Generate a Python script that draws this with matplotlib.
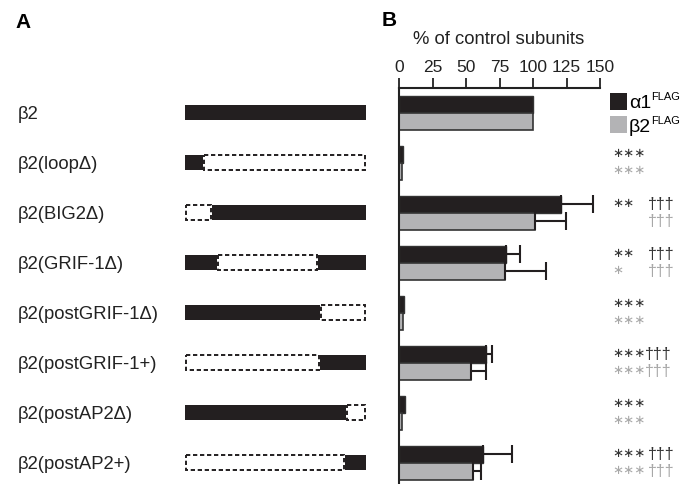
import matplotlib
matplotlib.use("Agg")
import matplotlib.pyplot as plt
import matplotlib.transforms as mtransforms
from matplotlib.patches import Rectangle
import numpy as np

plt.rcParams["font.family"] = ["Liberation Sans", "DejaVu Sans"]

constructs = ["β2", "β2(loopΔ)", "β2(BIG2Δ)", "β2(GRIF-1Δ)", "β2(postGRIF-1Δ)",
              "β2(postGRIF-1+)", "β2(postAP2Δ)", "β2(postAP2+)"]

# schematic segments along the construct (0-181 units), 'f' = present, 'd' = deleted
segments = [
    [(0, 181, "f")],
    [(0, 18, "f"), (18, 181, "d")],
    [(0, 27, "d"), (27, 181, "f")],
    [(0, 32, "f"), (32, 133, "d"), (133, 181, "f")],
    [(0, 135, "f"), (135, 181, "d")],
    [(0, 135, "d"), (135, 181, "f")],
    [(0, 161, "f"), (161, 181, "d")],
    [(0, 160, "d"), (160, 181, "f")],
]

alpha_vals = [100, 3, 121, 80, 4, 65, 4.5, 63]
alpha_err = [0, 0, 24, 10, 0, 4.5, 0, 21]
beta_vals = [100, 2.5, 101.5, 79, 3, 54, 2.5, 55]
beta_err = [0, 0, 23, 31, 0, 11, 0, 6]

stars_alpha = ["", "***", "**", "**", "***", "***", "***", "***"]
stars_beta = ["", "***", "", "*", "***", "***", "***", "***"]
dagger_alpha = ["", "", "†††", "†††", "", "†††", "", "†††"]
dagger_beta = ["", "", "†††", "†††", "", "†††", "", "†††"]

xticks = [0, 25, 50, 75, 100, 125, 150]

W, H = 686, 484
fig = plt.figure(figsize=(W / 100, H / 100), dpi=100)

dark = "#231f20"
grey = "#b3b3b5"
grey_txt = "#a8a8a8"

ymin, ymax = 7.42, -0.5

ax = fig.add_axes([399 / W, 0, 201 / W, (H - 88) / H])
y = np.arange(len(constructs))
off = 0.17
h = 0.34
ax.barh(y - off, alpha_vals, height=h, color=dark, edgecolor="#333333", linewidth=1)
ax.barh(y + off, beta_vals, height=h, color=grey, edgecolor="#333333", linewidth=1.2)

a_err = np.array(alpha_err)
b_err = np.array(beta_err)
ma = a_err > 0
mb = b_err > 0
ax.errorbar(np.array(alpha_vals)[ma], (y - off)[ma], xerr=[np.zeros(ma.sum()), a_err[ma]],
            fmt="none", ecolor=dark, elinewidth=1.5, capsize=6.5, capthick=1.5)
ax.errorbar(np.array(beta_vals)[mb], (y + off)[mb], xerr=[np.zeros(mb.sum()), b_err[mb]],
            fmt="none", ecolor=dark, elinewidth=1.5, capsize=6.5, capthick=1.5)

ax.set_xlim(0, 150)
ax.set_ylim(ymin, ymax)
ax.xaxis.tick_top()
ax.set_xticks(xticks)
ax.tick_params(axis="x", direction="out", length=7, width=1.3, labelsize=12.5, pad=2,
               colors="#222222")
ax.set_yticks([])
for s in ["right", "bottom"]:
    ax.spines[s].set_visible(False)
ax.spines["top"].set_linewidth(1.5)
ax.spines["left"].set_linewidth(1.5)
ax.spines["top"].set_color("#222222")
ax.spines["left"].set_color("#222222")
ax.set_facecolor("none")

fig.text(499 / W, 1 - 40 / H, "% of control subunits", ha="center", va="center", fontsize=13.3,
         color="#222222")

# schematic panel
ax_s = fig.add_axes([185 / W, 0, 181 / W, (H - 88) / H])
ax_s.set_xlim(0, 181)
ax_s.set_ylim(ymin, ymax)
ax_s.axis("off")
bh = 0.30
for i, segs in enumerate(segments):
    for (a, b, kind) in segs:
        if kind == "f":
            ax_s.add_patch(Rectangle((a, i - bh / 2), b - a, bh, facecolor=dark,
                                     edgecolor="none"))
        else:
            ax_s.add_patch(Rectangle((a + 0.6, i - bh / 2), b - a - 1.2, bh, facecolor="white",
                                     edgecolor=dark, linewidth=1.4,
                                     linestyle=(0, (2.2, 1.4))))

trans = mtransforms.blended_transform_factory(fig.transFigure, ax.transData)
for i, name in enumerate(constructs):
    fig.text(18 / W, i + 0.04, name, transform=trans, ha="left", va="center", fontsize=13.3,
             color="#222222")

# significance marks
for i in range(len(constructs)):
    ya = i - off
    yb = i + off
    fig.text(612 / W, ya, stars_alpha[i].replace("*", "∗"), transform=trans, ha="left",
             va="center", fontsize=9.5, color="#333333")
    fig.text(612 / W, yb, stars_beta[i].replace("*", "∗"), transform=trans, ha="left",
             va="center", fontsize=9.5, color=grey_txt)
    xd = 645 if i == 5 else 648
    fig.text(xd / W, ya, dagger_alpha[i], transform=trans, ha="left", va="center",
             fontsize=11.5, color="#333333")
    fig.text(xd / W, yb, dagger_beta[i], transform=trans, ha="left", va="center",
             fontsize=11.5, color=grey_txt)

# legend
fig.patches.append(Rectangle((610 / W, 1 - 110 / H), 17 / W, 17 / H, transform=fig.transFigure,
                             facecolor=dark, edgecolor="none"))
fig.patches.append(Rectangle((610 / W, 1 - 133 / H), 17 / W, 17 / H, transform=fig.transFigure,
                             facecolor=grey, edgecolor="none"))
fig.text(629 / W, 1 - 103 / H, "α1", ha="left", va="center", fontsize=14)
fig.text(651 / W, 1 - 97 / H, "FLAG", ha="left", va="center", fontsize=8)
fig.text(629 / W, 1 - 127 / H, "β2", ha="left", va="center", fontsize=14)
fig.text(651 / W, 1 - 121 / H, "FLAG", ha="left", va="center", fontsize=8)

fig.text(15 / W, 1 - 23 / H, "A", ha="left", va="center", fontsize=15, fontweight="bold")
fig.text(382 / W, 1 - 21 / H, "B", ha="left", va="center", fontsize=15, fontweight="bold")

fig.savefig("out.png", dpi=100)
